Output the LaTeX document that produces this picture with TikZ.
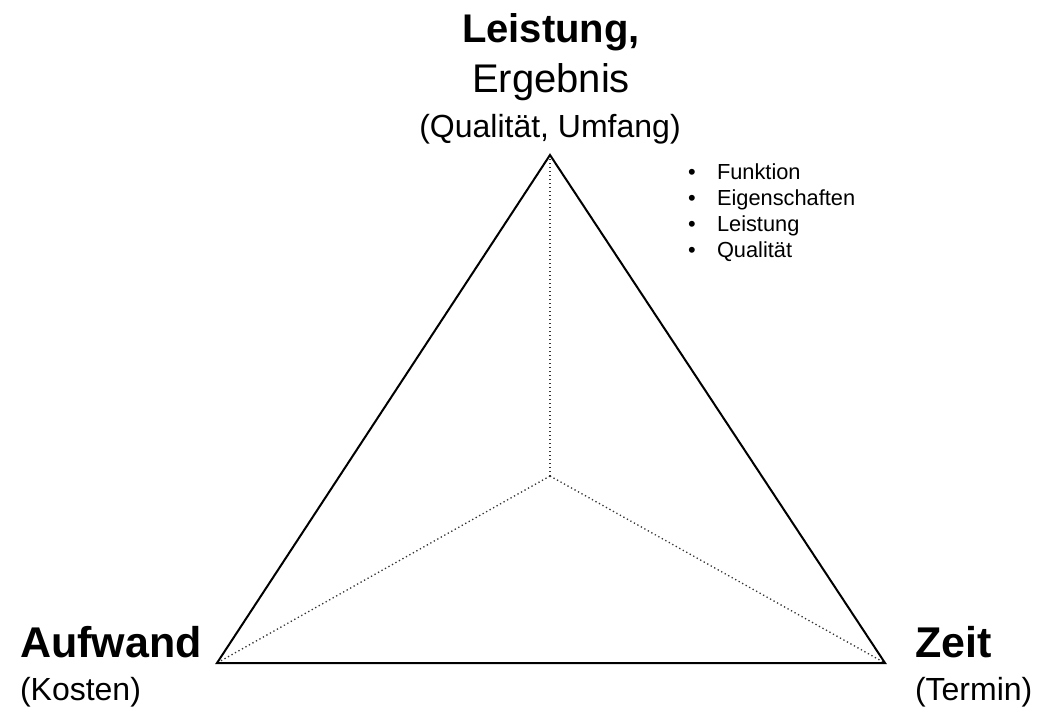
\documentclass[tikz,border=0pt]{standalone}
\usepackage{fontspec}
\setmainfont{Liberation Sans}
\usetikzlibrary{positioning}
\newcommand{\bigbold}{\fontsize{40}{46}\selectfont\bfseries}
\newcommand{\bigreg}{\fontsize{40}{46}\selectfont}
\newcommand{\medreg}{\fontsize{32}{38}\selectfont}
\newcommand{\cornerbold}{\fontsize{43}{49}\selectfont\bfseries}
\newcommand{\smallreg}{\fontsize{21.8}{26}\selectfont}

\begin{document}
\begin{tikzpicture}[x=1pt, y=-1pt, every node/.style={inner sep=0pt, outer sep=0pt},
  edge/.style={line width=2pt, line join=miter},
  axis/.style={line width=1.3pt, dash pattern=on 1.3pt off 2.7pt, draw=black!80}]
\useasboundingbox (0,0) rectangle (1043,709);
% corners of the triangle
\coordinate (top) at (550,155);
\coordinate (left) at (217,663);
\coordinate (right) at (885,663);
\coordinate (mid) at (550,476);
\draw[axis] (mid) -- (top);
\draw[axis] (mid) -- (left);
\draw[axis] (mid) -- (right);
\draw[edge] (top) -- (left) -- (right) -- cycle;
% top label
\node[anchor=base] (leistung) at (551,42) {\bigbold Leistung,};
\node[anchor=base] (ergebnis) at (551,92) {\bigreg Ergebnis};
\node[anchor=base] (qualitaet) at (550,137) {\medreg (Qualität, Umfang)};
% bottom labels
\node[anchor=base west] (aufwand) at (20,657) {\cornerbold Aufwand};
\node[anchor=base west] (kosten) at (20,700) {\medreg (Kosten)};
\node[anchor=base west] (zeit) at (915,657) {\cornerbold Zeit};
\node[anchor=base west] (termin) at (915,700) {\medreg (Termin)};
% list of features
\foreach \txt [count=\i] in {Funktion, Eigenschaften, Leistung, Qualität} {
  \node[anchor=base] (dot\i) at (692,153+26.2*\i) {\smallreg •};
  \node[anchor=base west] (item\i) at (717,153+26.2*\i) {\smallreg \txt};
}
\end{tikzpicture}
\end{document}
